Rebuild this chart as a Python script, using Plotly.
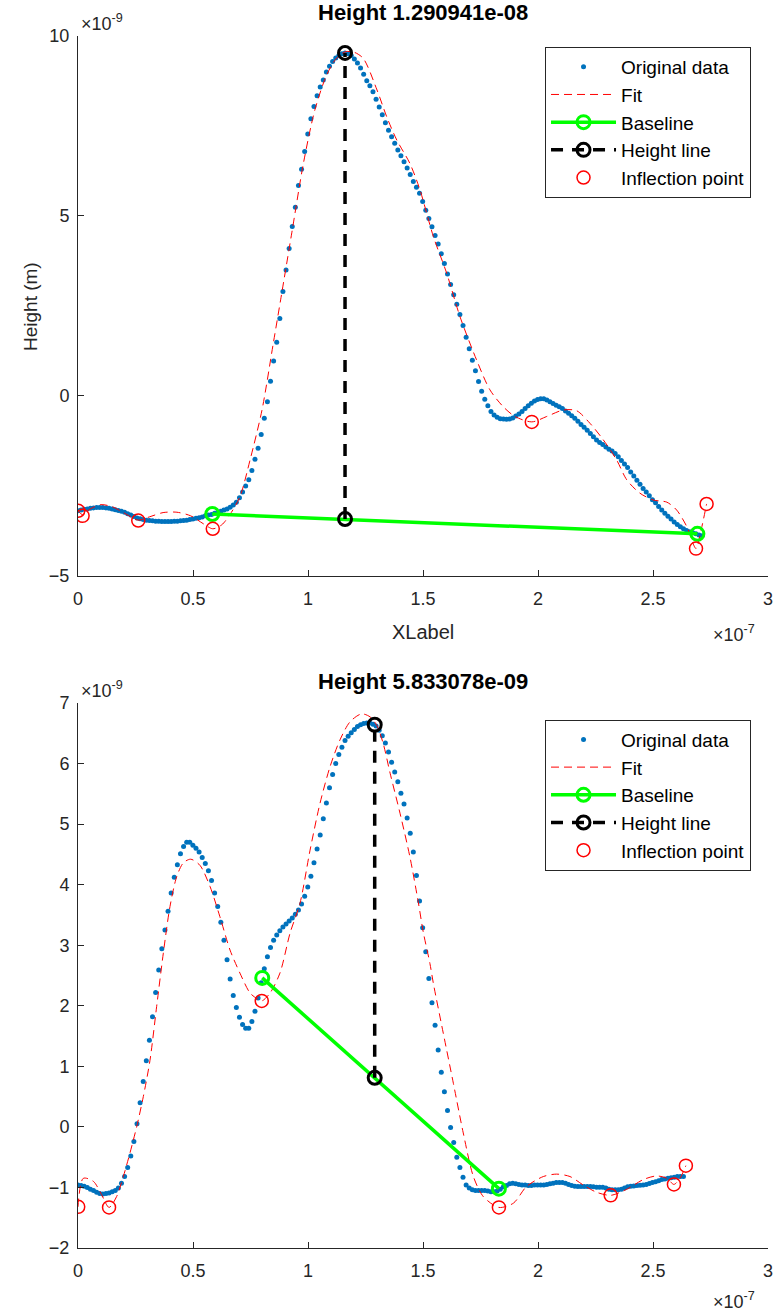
import plotly.graph_objects as go

# ---------------- data (x in units of 1e-7 m, heights in units of 1e-9 m) -------------
x_step = 0.0135  # sampling step of the measured profile (1e-7 m)

top_data_y = [
    -3.19, -3.17, -3.15, -3.14, -3.12, -3.11, -3.10, -3.10, -3.10, -3.11,
    -3.12, -3.14, -3.16, -3.18, -3.20, -3.23, -3.27, -3.31, -3.35, -3.39,
    -3.41, -3.43, -3.45, -3.46, -3.47, -3.48, -3.48, -3.49, -3.49, -3.49,
    -3.49, -3.48, -3.48, -3.47, -3.46, -3.45, -3.43, -3.42, -3.40, -3.38,
    -3.36, -3.33, -3.31, -3.29, -3.26, -3.23, -3.20, -3.17, -3.14, -3.09,
    -3.03, -2.95, -2.83, -2.67, -2.50, -2.33, -2.07, -1.76, -1.45, -1.07,
    -0.62, -0.16, 0.41, 0.97, 1.49, 2.15, 2.90, 3.50, 4.10, 4.71,
    5.24, 5.85, 6.30, 6.79, 7.28, 7.70, 8.04, 8.34, 8.58, 8.78,
    9.00, 9.16, 9.29, 9.39, 9.46, 9.51, 9.53, 9.51, 9.46, 9.36,
    9.25, 9.11, 8.94, 8.76, 8.62, 8.45, 8.24, 8.03, 7.81, 7.59,
    7.38, 7.20, 7.02, 6.83, 6.67, 6.51, 6.33, 6.15, 5.96, 5.80,
    5.63, 5.40, 5.16, 4.93, 4.70, 4.46, 4.22, 3.95, 3.68, 3.39,
    3.10, 2.81, 2.55, 2.26, 1.96, 1.63, 1.31, 0.99, 0.70, 0.40,
    0.13, -0.09, -0.27, -0.43, -0.53, -0.59, -0.63, -0.64, -0.65, -0.64,
    -0.61, -0.56, -0.50, -0.43, -0.35, -0.27, -0.20, -0.14, -0.10, -0.08,
    -0.08, -0.11, -0.16, -0.21, -0.26, -0.30, -0.35, -0.42, -0.48, -0.55,
    -0.62, -0.70, -0.79, -0.87, -0.95, -1.04, -1.13, -1.22, -1.29, -1.35,
    -1.42, -1.48, -1.53, -1.60, -1.69, -1.79, -1.89, -1.99, -2.11, -2.22,
    -2.34, -2.45, -2.57, -2.67, -2.77, -2.88, -2.97, -3.07, -3.17, -3.26,
    -3.34, -3.42, -3.50, -3.57, -3.63, -3.69, -3.74, -3.77, -3.80, -3.83,
    -3.86, -3.88,
]

top_fit_x = [0.0, 0.02, 0.05, 0.10, 0.15, 0.20, 0.262, 0.31, 0.37, 0.43, 0.49,
             0.545, 0.586, 0.625, 0.66, 0.704, 0.748, 0.80, 0.849, 0.881, 0.93,
             0.98, 1.03, 1.08, 1.12, 1.161, 1.20, 1.24, 1.30, 1.342, 1.386,
             1.443, 1.487, 1.545, 1.603, 1.661, 1.733, 1.791, 1.849, 1.90, 1.973,
             2.038, 2.11, 2.168, 2.226, 2.284, 2.342, 2.386, 2.443, 2.501, 2.56,
             2.603, 2.647, 2.687, 2.71, 2.733]
top_fit_y = [-3.19, -3.30, -3.15, -3.02, -3.08, -3.25, -3.45, -3.36, -3.24, -3.23, -3.33,
             -3.55, -3.69, -3.58, -3.30, -2.80, -1.78, -0.39, 1.46, 2.67, 4.55,
             6.46, 7.95, 8.90, 9.35, 9.56, 9.55, 9.38, 8.50, 7.76, 7.11,
             6.46, 5.72, 4.43, 3.41, 2.20, 1.00, 0.17, -0.30, -0.57, -0.72,
             -0.57, -0.39, -0.41, -0.76, -1.22, -1.78, -2.33, -2.70, -2.89, -2.95,
             -3.17, -3.63, -4.24, -3.70, -3.00]

top_baseline_x = [0.584, 2.693]
top_baseline_y = [-3.28, -3.83]
top_height_x = [1.161, 1.161]
top_height_y = [-3.42, 9.53]
top_inflect_x = [0.001, 0.02, 0.262, 0.586, 1.973, 2.687, 2.733]
top_inflect_y = [-3.19, -3.33, -3.46, -3.69, -0.72, -4.24, -3.00]

bot_data_y = [
    -0.96, -0.97, -0.98, -1.00, -1.03, -1.05, -1.08, -1.10, -1.11, -1.10,
    -1.09, -1.07, -1.05, -1.01, -0.93, -0.82, -0.67, -0.48, -0.24, 0.05,
    0.40, 0.75, 1.09, 1.43, 1.82, 2.22, 2.59, 2.94, 3.25, 3.56,
    3.86, 4.12, 4.33, 4.51, 4.63, 4.70, 4.70, 4.65, 4.60, 4.54,
    4.45, 4.35, 4.23, 4.07, 3.86, 3.64, 3.38, 3.08, 2.76, 2.44,
    2.17, 1.97, 1.81, 1.69, 1.63, 1.63, 1.74, 1.91, 2.13, 2.38,
    2.61, 2.81, 2.96, 3.08, 3.17, 3.24, 3.30, 3.35, 3.40, 3.45,
    3.51, 3.58, 3.68, 3.81, 3.96, 4.14, 4.36, 4.59, 4.82, 5.09,
    5.35, 5.60, 5.82, 6.00, 6.15, 6.27, 6.38, 6.45, 6.51, 6.56,
    6.61, 6.64, 6.66, 6.67, 6.67, 6.65, 6.62, 6.55, 6.46, 6.34,
    6.19, 6.02, 5.86, 5.70, 5.51, 5.33, 5.10, 4.85, 4.54, 4.15,
    3.73, 3.29, 2.89, 2.45, 2.05, 1.68, 1.27, 0.90, 0.58, 0.27,
    -0.01, -0.26, -0.50, -0.67, -0.83, -0.96, -1.01, -1.04, -1.05, -1.05,
    -1.05, -1.05, -1.06, -1.07, -1.07, -1.06, -1.03, -0.99, -0.97, -0.94,
    -0.93, -0.94, -0.95, -0.96, -0.96, -0.97, -0.97, -0.96, -0.96, -0.96,
    -0.96, -0.95, -0.94, -0.93, -0.92, -0.92, -0.92, -0.93, -0.95, -0.97,
    -0.98, -0.985, -0.985, -0.985, -0.985, -0.985, -0.99, -0.995, -0.995, -0.995,
    -1.01, -1.03, -1.04, -1.04, -1.04, -1.03, -1.01, -0.99, -0.98, -0.975,
    -0.97, -0.965, -0.96, -0.95, -0.935, -0.92, -0.905, -0.89, -0.87, -0.86,
    -0.85, -0.84, -0.83, -0.82, -0.82, -0.82,
]

bot_fit_x = [0.0, 0.023, 0.067, 0.10, 0.135, 0.168, 0.197, 0.226, 0.255, 0.284,
             0.313, 0.342, 0.371, 0.40, 0.429, 0.458, 0.49, 0.53, 0.574, 0.617,
             0.661, 0.704, 0.748, 0.777, 0.799, 0.835, 0.878, 0.922, 0.965, 1.009,
             1.052, 1.096, 1.139, 1.183, 1.233, 1.27, 1.299, 1.327, 1.357, 1.40,
             1.443, 1.48, 1.501, 1.53, 1.545, 1.588, 1.632, 1.675, 1.719, 1.762,
             1.83, 1.893, 1.95, 2.023, 2.081, 2.139, 2.197, 2.255, 2.316, 2.386,
             2.458, 2.516, 2.56, 2.591, 2.617, 2.643]
bot_fit_y = [-1.32, -0.85, -0.90, -1.10, -1.33, -1.15, -0.82, -0.43, 0.00, 0.50,
             1.10, 1.99, 2.87, 3.64, 4.13, 4.36, 4.42, 4.32, 3.97, 3.47,
             2.92, 2.54, 2.21, 2.12, 2.08, 2.21, 2.54, 3.20, 3.69, 4.57,
             5.34, 5.95, 6.39, 6.69, 6.82, 6.77, 6.63, 6.33, 5.84, 5.18,
             4.46, 3.70, 3.22, 2.70, 2.37, 1.55, 0.72, -0.10, -0.82, -1.15,
             -1.33, -1.26, -0.985, -0.82, -0.78, -0.82, -0.96, -1.08, -1.13, -1.03,
             -0.87, -0.81, -0.85, -0.95, -0.85, -0.64]

bot_baseline_x = [0.801, 1.83]
bot_baseline_y = [2.46, -1.02]
bot_height_x = [1.29, 1.29]
bot_height_y = [0.81, 6.64]
bot_inflect_x = [0.001, 0.135, 0.799, 1.83, 2.316, 2.591, 2.643]
bot_inflect_y = [-1.32, -1.33, 2.08, -1.33, -1.13, -0.95, -0.64]

titles = ["Height 1.290941e-08", "Height 5.833078e-09"]
x_ticks = [0, 0.5, 1, 1.5, 2, 2.5, 3]
x_tick_text = ["0", "0.5", "1", "1.5", "2", "2.5", "3"]
top_y_ticks = [-5, 0, 5, 10]
bot_y_ticks = [-2, -1, 0, 1, 2, 3, 4, 5, 6, 7]

# ---------------- styling ----------------
FONT = "Liberation Sans, Arial, Helvetica, sans-serif"
AX = "#262626"
BLUE = "#0072BD"
RED = "#FF0000"
GREEN = "#00FF00"

top_x = [round(i * x_step, 5) for i in range(len(top_data_y))]
bot_x = [round(i * x_step, 5) for i in range(len(bot_data_y))]

fig = go.Figure()


def add_panel(xd, yd, fx, fy, bx, by, hx, hy, ix, iy, xa, ya, legend):
    common = dict(xaxis=xa, yaxis=ya, legend=legend)
    fig.add_trace(go.Scatter(x=xd, y=yd, mode="markers", name="Original data",
                             marker=dict(color=BLUE, size=5), legendgroup=legend + "a",
                             **common))
    fig.add_trace(go.Scatter(x=fx, y=fy, mode="lines", name="Fit",
                             line=dict(color=RED, width=1, dash="8px,5px", shape="spline",
                                       smoothing=0.8),
                             legendgroup=legend + "b", **common))
    fig.add_trace(go.Scatter(x=bx, y=by, mode="lines+markers", name="Baseline",
                             line=dict(color=GREEN, width=3.5),
                             marker=dict(symbol="circle-open", size=13, color=GREEN,
                                         line=dict(width=3, color=GREEN)),
                             legendgroup=legend + "c", **common))
    fig.add_trace(go.Scatter(x=hx, y=hy, mode="lines+markers", name="Height line",
                             line=dict(color="black", width=3.5, dash="12px,9px"),
                             marker=dict(symbol="circle-open", size=13, color="black",
                                         line=dict(width=3, color="black")),
                             legendgroup=legend + "d", **common))
    fig.add_trace(go.Scatter(x=ix, y=iy, mode="markers", name="Inflection point",
                             marker=dict(symbol="circle-open", size=13, color=RED,
                                         line=dict(width=1.5, color=RED)),
                             legendgroup=legend + "e", **common))


add_panel(top_x, top_data_y, top_fit_x, top_fit_y, top_baseline_x, top_baseline_y,
          top_height_x, top_height_y, top_inflect_x, top_inflect_y, "x", "y", "legend")
add_panel(bot_x, bot_data_y, bot_fit_x, bot_fit_y, bot_baseline_x, bot_baseline_y,
          bot_height_x, bot_height_y, bot_inflect_x, bot_inflect_y, "x2", "y2", "legend2")

axis_common = dict(showline=True, linecolor=AX, linewidth=1, ticks="inside", ticklen=6,
                   tickcolor=AX, tickwidth=1, showgrid=False, zeroline=False, mirror=False,
                   automargin=False, tickfont=dict(family=FONT, size=18, color=AX))
xaxis_common = dict(range=[0, 3], tickvals=x_ticks, ticktext=x_tick_text,
                    ticklabelstandoff=6, ticklabeloverflow="allow", **axis_common)

legend_common = dict(bgcolor="white", bordercolor=AX, borderwidth=1,
                     font=dict(family=FONT, size=19, color="black"),
                     xanchor="right", yanchor="top", traceorder="grouped",
                     tracegroupgap=0, itemwidth=65)

fig.update_layout(
    width=774, height=1315,
    margin=dict(l=78, r=6, t=36, b=67),
    paper_bgcolor="white", plot_bgcolor="white",
    font=dict(family=FONT, color=AX),
    xaxis=dict(domain=[0, 1], anchor="y", **xaxis_common),
    yaxis=dict(domain=[0.5545, 1], anchor="x", range=[-5, 10], tickvals=top_y_ticks,
               ticklabelstandoff=4, **axis_common),
    xaxis2=dict(domain=[0, 1], anchor="y2", **xaxis_common),
    yaxis2=dict(domain=[0, 0.4497], anchor="x2", range=[-2, 7], tickvals=bot_y_ticks,
                ticklabelstandoff=4, **axis_common),
    legend=dict(x=0.9754, y=0.991, **legend_common),
    legend2=dict(x=0.9754, y=0.436, **legend_common),
    showlegend=True,
)

annotations = [
    dict(text="<b>%s</b>" % titles[0], x=0.5, y=1.0195, xref="paper", yref="paper",
         xanchor="center", yanchor="middle", showarrow=False,
         font=dict(family=FONT, size=22, color="black")),
    dict(text="<b>%s</b>" % titles[1], x=0.5, y=0.467, xref="paper", yref="paper",
         xanchor="center", yanchor="middle", showarrow=False,
         font=dict(family=FONT, size=22, color="black")),
    dict(text="XLabel", x=0.5, y=0.5083, xref="paper", yref="paper",
         xanchor="center", yanchor="middle", showarrow=False,
         font=dict(family=FONT, size=20, color=AX)),
    dict(text="Height (m)", x=-0.0696, y=0.7772, xref="paper", yref="paper",
         xanchor="center", yanchor="middle", showarrow=False, textangle=-90,
         font=dict(family=FONT, size=19, color=AX)),
    dict(text="\u00d710<sup>-9</sup>", x=0.002, y=1.0, xref="paper", yref="paper",
         xanchor="left", yanchor="bottom", showarrow=False,
         font=dict(family=FONT, size=18, color=AX)),
    dict(text="\u00d710<sup>-9</sup>", x=0.002, y=0.4497, xref="paper", yref="paper",
         xanchor="left", yanchor="bottom", showarrow=False,
         font=dict(family=FONT, size=18, color=AX)),
    dict(text="\u00d710<sup>-7</sup>", x=0.917, y=0.518, xref="paper", yref="paper",
         xanchor="left", yanchor="top", showarrow=False,
         font=dict(family=FONT, size=18, color=AX)),
    dict(text="\u00d710<sup>-7</sup>", x=0.917, y=-0.032, xref="paper", yref="paper",
         xanchor="left", yanchor="top", showarrow=False,
         font=dict(family=FONT, size=18, color=AX)),
]
fig.update_layout(annotations=annotations)

fig.write_html(
    "out.html",
    config={"displayModeBar": False},
    post_script="document.documentElement.style.margin='0';"
                "document.body.style.margin='0';"
                "document.body.style.overflow='hidden';",
)
